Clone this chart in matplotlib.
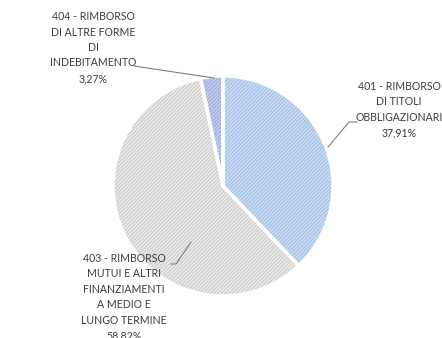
import matplotlib
matplotlib.use("Agg")
import matplotlib.pyplot as plt

# Spending items (codes and descriptions) and their shares in percent
codes = ["401", "403", "404"]
names = [
    "RIMBORSO\nDI TITOLI\nOBBLIGAZIONARI",
    "RIMBORSO\nMUTUI E ALTRI\nFINANZIAMENTI\nA MEDIO E\nLUNGO TERMINE",
    "RIMBORSO\nDI ALTRE FORME\nDI\nINDEBITAMENTO",
]
shares = [37.91, 58.82, 3.27]

face_colors = ["#cfe0f4", "#efefef", "#c8d1ef"]
stripe_colors = ["#a2bfe5", "#cbcbcb", "#9cabdc"]

plt.rcParams["hatch.linewidth"] = 0.9

W, H = 442, 338
fig = plt.figure(figsize=(W / 100, H / 100), dpi=100)
ax = fig.add_axes([0, 0, 1, 1])

cx, cy, r = 223, H - 186, 110

# base fill
ax.pie(shares, colors=face_colors, startangle=90, counterclock=False,
       center=(cx, cy), radius=r, frame=True,
       wedgeprops=dict(linewidth=0))
# diagonal stripes
wedges, _ = ax.pie(shares, startangle=90, counterclock=False,
                   center=(cx, cy), radius=r, frame=True,
                   wedgeprops=dict(linewidth=0))
for w, sc in zip(wedges, stripe_colors):
    w.set_facecolor("none")
    w.set_edgecolor(sc)
    w.set_hatch("/" * 9)
    w.set_linewidth(0)
# white separators
ax.pie(shares, startangle=90, counterclock=False,
       center=(cx, cy), radius=r, frame=True,
       wedgeprops=dict(facecolor="none", edgecolor="white", linewidth=2.5))
ax.set_xlim(0, W)
ax.set_ylim(0, H)
ax.set_aspect("equal")
ax.axis("off")


def label(i):
    pct = f"{shares[i]:.2f}".replace(".", ",") + "%"
    return f"{codes[i]} - {names[i]}\n{pct}"


text_style = dict(ha="center", va="center", color="#3c3c3c",
                  fontsize=7.6, family="Lato", linespacing=1.5)
line_style = dict(color="#808080", linewidth=0.8)

# 401 label and leader
ax.text(399, H - 109.5, label(0), **text_style)
ax.plot([357, 349, 328], [H - 122, H - 122, H - 147], **line_style)

# 403 label and leader
ax.text(124, H - 297, label(1), **text_style)
ax.plot([171, 176, 191], [H - 264, H - 264, H - 242], **line_style)

# 404 label and leader
ax.text(93, H - 47.5, label(2), **text_style)
ax.plot([134, 214], [H - 66, H - 78], **line_style)

fig.savefig("out.png", dpi=100)
